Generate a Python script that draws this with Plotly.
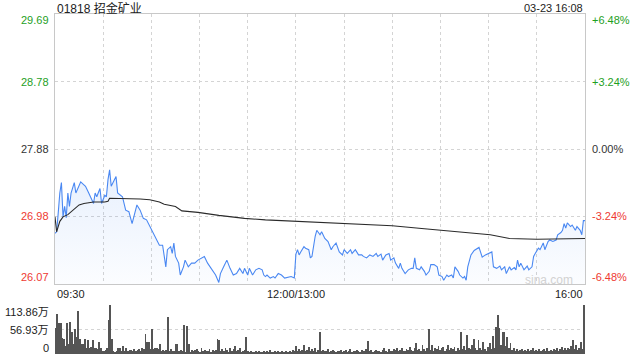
import plotly.graph_objects as go

# ---------------- data ----------------
title_text = "01818 招金矿业"
time_text = "03-23 16:08"
prev_close = 27.88
price_ticks = [26.07, 26.98, 27.88, 28.78, 29.69]
price_tick_labels = ["26.07", "26.98", "27.88", "28.78", "29.69"]
pct_tick_labels = ["-6.48%", "-3.24%", "0.00%", "+3.24%", "+6.48%"]
x_tick_minutes = [0, 150, 330]
x_tick_labels = ["09:30", "12:00/13:00", "16:00"]
vol_ticks = [0, 56.93, 113.86]
vol_tick_labels = ["0", "56.93万", "113.86万"]

price_minutes = [0, 1, 2, 3, 4, 5, 6, 7, 8, 9, 10, 12, 13, 15, 16, 18, 19, 21, 22, 24, 25, 26, 28, 29, 31, 32, 33, 34, 35, 37, 38, 39,
                 42, 44, 46, 48, 50, 51, 53, 55, 57, 59, 61, 63, 65, 67, 69, 70, 72, 73, 74, 75, 77, 78, 80, 81, 83, 85, 87,
                 89, 91, 93, 95, 98, 100, 102, 103, 105, 107, 109, 111, 113, 115, 117, 118, 120, 121, 123, 125, 127, 129,
                 130, 131, 132, 134, 136, 137, 139, 141, 143, 145, 147, 149, 150, 151, 152, 153, 155, 156, 158, 159, 160,
                 162, 163, 165, 166, 168, 170, 172, 173, 175, 177, 179, 180, 182, 184, 185, 187, 189, 191, 192, 194, 196,
                 198, 200, 201, 203, 204, 206, 208, 209, 211, 212, 214, 215, 216, 218, 220, 222, 223, 224, 225, 227, 228,
                 230, 231, 233, 234, 236, 238, 239, 241, 242, 244, 245, 247, 248, 249, 251, 252, 254, 255, 256, 257, 259,
                 261, 264, 265, 266, 268, 270, 272, 273, 275, 277, 278, 280, 281, 283, 284, 286, 287, 288, 289, 290, 292,
                 294, 295, 297, 298, 299, 301, 302, 304, 305, 307, 308, 310, 312, 313, 315, 316, 317, 318, 319, 321, 322,
                 324, 325, 327, 328, 329, 330]
price_values = [26.75, 26.77, 27.02, 27.29, 27.43, 26.97, 27.11, 26.96, 27.29, 27.11, 27.29, 27.43, 27.29, 27.38, 27.44, 27.40,
                27.38, 27.29, 27.24, 27.15, 27.29, 27.24, 27.35, 27.15, 27.26, 27.24, 27.47, 27.60, 27.38, 27.47, 27.51, 27.29,
                27.24, 27.06, 27.04, 26.88, 27.06, 27.13, 27.06, 26.95, 26.93, 26.84, 26.77, 26.66, 26.59, 26.59, 26.30, 26.53,
                26.57, 26.48, 26.62, 26.44, 26.35, 26.19, 26.30, 26.39, 26.30, 26.35, 26.35, 26.39, 26.42, 26.44, 26.35, 26.26,
                26.19, 26.09, 26.21, 26.30, 26.39, 26.28, 26.19, 26.21, 26.28, 26.21, 26.28, 26.19, 26.28, 26.19, 26.26, 26.28,
                26.26, 26.19, 26.17, 26.19, 26.15, 26.17, 26.15, 26.21, 26.19, 26.15, 26.16, 26.17, 26.15, 26.47, 26.53, 26.46,
                26.50, 26.57, 26.55, 26.53, 26.42, 26.44, 26.71, 26.79, 26.73, 26.77, 26.68, 26.64, 26.53, 26.57, 26.62, 26.50,
                26.46, 26.53, 26.48, 26.53, 26.48, 26.53, 26.46, 26.46, 26.44, 26.42, 26.46, 26.44, 26.48, 26.44, 26.47, 26.39,
                26.46, 26.48, 26.39, 26.42, 26.35, 26.28, 26.35, 26.28, 26.21, 26.26, 26.28, 26.28, 26.42, 26.28, 26.26, 26.30,
                26.24, 26.19, 26.24, 26.33, 26.33, 26.30, 26.19, 26.17, 26.12, 26.19, 26.17, 26.19, 26.15, 26.30, 26.24, 26.19,
                26.15, 26.17, 26.12, 26.30, 26.46, 26.52, 26.56, 26.50, 26.43, 26.46, 26.48, 26.50, 26.30, 26.28, 26.31, 26.26,
                26.30, 26.21, 26.30, 26.26, 26.29, 26.26, 26.39, 26.30, 26.35, 26.26, 26.31, 26.26, 26.30, 26.44, 26.48, 26.55,
                26.53, 26.62, 26.53, 26.64, 26.66, 26.64, 26.66, 26.73, 26.76, 26.79, 26.88, 26.82, 26.89, 26.84, 26.86, 26.79,
                26.84, 26.79, 26.73, 26.92, 26.92]

avg_minutes = [0, 1, 3, 5, 8, 11, 15, 18, 24, 31, 33, 34, 40, 53, 59, 65, 68, 75, 79, 89, 102, 118, 131, 149, 180, 196, 210,
               230, 245, 262, 271, 283, 300, 330]
avg_values = [26.97, 26.77, 26.91, 26.97, 27.00, 27.06, 27.13, 27.15, 27.17, 27.17, 27.18, 27.22, 27.22, 27.21, 27.20, 27.17,
              27.14, 27.11, 27.05, 27.03, 26.99, 26.95, 26.93, 26.91, 26.88, 26.86, 26.85, 26.81, 26.78, 26.74, 26.73, 26.68,
              26.67, 26.68]

volumes = [61, 93, 72, 72, 38, 36, 19, 72, 24, 74, 52, 23, 57, 39, 101, 34, 24, 24, 34, 15, 32, 15, 17, 32, 13, 15, 11, 27, 15,
           8, 8, 9, 15, 80, 113, 34, 6, 4, 8, 14, 15, 8, 19, 6, 13, 8, 9, 9, 6, 11, 6, 9, 11, 6, 13, 11, 46, 27, 28, 11, 57, 11,
           14, 14, 11, 23, 8, 10, 8, 10, 87, 8, 11, 6, 8, 24, 24, 8, 9, 8, 68, 4, 66, 24, 4, 9,
           6, 9, 12, 8, 5, 13, 7, 10, 6, 8, 11, 5, 9, 7, 10,
           36, 33, 8, 12, 6, 15, 9, 5, 14, 7, 11, 18, 6, 9, 13, 5, 8, 10, 40, 6, 4, 7, 3, 5, 6, 4, 8, 3, 5, 7, 4, 6, 3, 9, 5,
           4, 7, 3, 6, 4, 8, 5, 3, 6, 4, 7, 5, 9, 6,
           19, 8, 12, 6, 10, 21, 7, 9, 17, 6, 11, 8, 14, 5, 9, 50, 7, 10, 6, 8, 12, 5, 7, 9, 6, 4, 8, 6, 10, 5, 7, 9, 4, 6,
           11, 5, 8, 6, 9, 7, 5, 10, 6, 8, 12, 30, 6, 9, 5, 7, 10, 6, 8, 5, 9, 15, 7, 5, 11, 8, 6, 12, 9, 14, 7, 10, 13, 8,
           6, 12, 9, 16, 10, 7, 13, 26, 9, 12, 8, 21, 11, 7, 15, 57, 10, 21, 8, 14, 11, 18, 9, 13, 16, 7, 12, 20, 9, 14, 11,
           17, 8, 13, 10, 50, 12, 18, 9, 44, 15, 11, 20, 36, 13, 9, 33, 14, 10, 29, 12, 8, 17, 25, 11, 42, 14, 63, 91, 60,
           22, 52, 50, 18, 40, 15, 26, 10, 13, 8, 11, 7, 9, 12, 6, 10, 8, 11, 7, 9, 13, 6, 10, 8, 12, 7, 9, 11, 6, 13, 8, 10,
           7, 12, 9, 14, 8, 11, 16, 9, 13, 10, 15, 12, 18, 33, 11, 21, 9, 14, 29, 12, 113.86]
volume_minutes = list(range(len(volumes)))

# ---------------- styling ----------------
FONT = "Arial, 'Liberation Sans', 'Noto Sans CJK SC', sans-serif"
GREEN = "#1ea01e"
RED = "#ee3a32"
BLACK = "#333333"
GRID = "#d4d4d4"
BORDER = "#c8c8c8"
LINE_BLUE = "#4a88f2"

M_T, M_B, M_L, M_R = 14, 6, 55, 55
H, W = 360, 640
PH = H - M_T - M_B


def py(p):
    return (H - M_B - p) / PH


main_dom = [py(284), 1.0]
vol_dom = [0.0, py(305)]

fig = go.Figure()

fig.add_trace(go.Scatter(
    x=price_minutes, y=price_values, mode="lines",
    line=dict(color=LINE_BLUE, width=1.1),
    fill="tozeroy",
    fillgradient=dict(type="vertical", start=price_ticks[0], stop=max(price_values),
                      colorscale=[[0, "rgba(77,140,242,0.02)"], [1, "rgba(77,140,242,0.13)"]]),
    xaxis="x", yaxis="y", hoverinfo="skip", showlegend=False))

fig.add_trace(go.Scatter(
    x=avg_minutes, y=avg_values, mode="lines",
    line=dict(color="#2a2a2a", width=1.1),
    xaxis="x", yaxis="y", hoverinfo="skip", showlegend=False))

fig.add_trace(go.Bar(
    x=volume_minutes, y=volumes, width=0.55,
    marker=dict(color="#555555", line=dict(width=0)),
    xaxis="x2", yaxis="y2", hoverinfo="skip", showlegend=False))

fig.update_layout(
    width=W, height=H,
    margin=dict(l=M_L, r=M_R, t=M_T, b=M_B),
    paper_bgcolor="white", plot_bgcolor="white",
    font=dict(family=FONT, size=11, color=BLACK),
    bargap=0,
    xaxis=dict(domain=[0, 1], range=[0, 330], tickvals=list(range(0, 331, 30)), showticklabels=False,
               showgrid=True, gridcolor=GRID, griddash="dot", gridwidth=1, zeroline=False,
               showline=True, linecolor=BORDER, linewidth=1, mirror=True, ticks=""),
    yaxis=dict(domain=main_dom, range=[price_ticks[0], price_ticks[-1]], tickvals=price_ticks,
               showticklabels=False, showgrid=True, gridcolor=GRID, griddash="dot", gridwidth=1,
               zeroline=False, showline=True, linecolor=BORDER, linewidth=1, mirror=True, ticks=""),
    xaxis2=dict(domain=[0, 1], range=[-0.5, 330.5], showticklabels=False, showgrid=False, zeroline=False,
                showline=False, anchor="y2", ticks=""),
    yaxis2=dict(domain=vol_dom, range=[0, vol_ticks[-1]], tickvals=vol_ticks[1:], showticklabels=False,
                showgrid=True, gridcolor=GRID, griddash="dot", gridwidth=1, zeroline=False,
                showline=False, anchor="x2", ticks=""),
)

ann = []
ann.append(dict(text=title_text, xref="paper", yref="paper", x=0, y=py(8), xanchor="left", yanchor="middle",
                showarrow=False, font=dict(size=12, color="#222222")))
ann.append(dict(text=time_text, xref="paper", yref="paper", x=1, y=py(8), xanchor="right", yanchor="middle",
                showarrow=False, font=dict(size=11, color="#222222")))

for i, (v, lab, pl) in enumerate(zip(price_ticks, price_tick_labels, pct_tick_labels)):
    col = RED if v < prev_close - 0.01 else (GREEN if v > prev_close + 0.01 else BLACK)
    shift = 0
    if i == 0:
        shift = 7
    elif i == len(price_ticks) - 1:
        shift = -6
    ann.append(dict(text=lab, xref="paper", yref="y", x=0, y=v, xanchor="right", yanchor="middle",
                    xshift=-4, yshift=shift, showarrow=False, font=dict(size=11, color=col)))
    ann.append(dict(text=pl, xref="paper", yref="y", x=1, y=v, xanchor="left", yanchor="middle",
                    xshift=5, yshift=shift, showarrow=False, font=dict(size=11, color=col)))

anchors = ["left", "center", "right"]
for m, lab, a in zip(x_tick_minutes, x_tick_labels, anchors):
    ann.append(dict(text=lab, xref="x", yref="paper", x=m, y=py(293.5), xanchor=a, yanchor="middle",
                    showarrow=False, font=dict(size=11, color="#222222")))

vshifts = [6, 0, -7]
for v, lab, s in zip(vol_ticks, vol_tick_labels, vshifts):
    ann.append(dict(text=lab, xref="paper", yref="y2", x=0, y=v, xanchor="right", yanchor="middle",
                    xshift=-4, yshift=s, showarrow=False, font=dict(size=11, color="#222222")))

ann.append(dict(text="sina.com", xref="paper", yref="paper", x=1, y=py(280), xanchor="right", yanchor="middle",
                xshift=-10, showarrow=False, font=dict(size=12, color="#d2d2d2")))

fig.update_layout(annotations=ann)

fig.write_html("out.html")
